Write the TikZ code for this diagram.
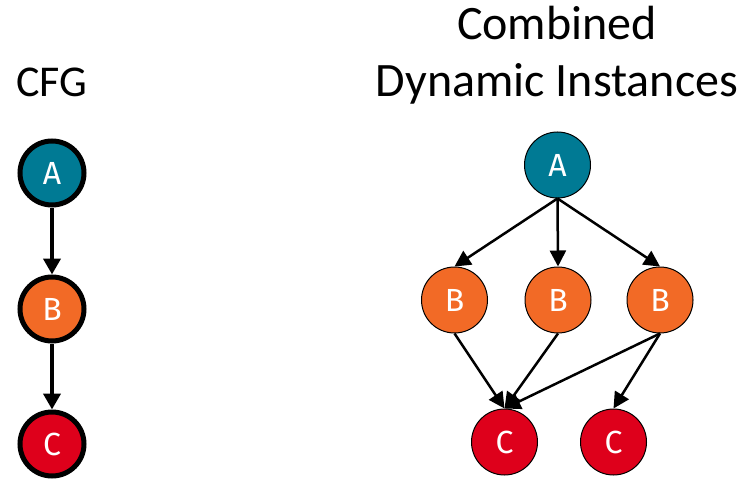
\documentclass[tikz,border=0pt]{standalone}
\usepackage{fontspec}
\setmainfont{Carlito}
\newfontfamily\nodefont{Fira Sans}
\usetikzlibrary{arrows.meta}
\definecolor{teal}{RGB}{0,122,148}
\definecolor{orng}{RGB}{242,106,38}
\definecolor{crimson}{RGB}{222,0,27}
\begin{document}
\begin{tikzpicture}[x=1pt,y=-1pt,
  title/.style={font=\fontsize{44}{44}\selectfont, anchor=base, inner sep=0pt},
  bigtitle/.style={title, font=\fontsize{48}{48}\selectfont},
  blk/.style={circle, minimum size=66pt, inner sep=0pt, text=white,
    font=\nodefont\fontsize{32}{32}\selectfont},
  cfgnode/.style={blk, draw=black, line width=5pt, minimum size=64pt},
  dynnode/.style={blk, draw=black, line width=1pt},
  cfgedge/.style={line width=4pt, -{Triangle[length=16pt,width=17pt]}},
  dynedge/.style={line width=2.5pt, -{Triangle[length=16pt,width=16pt]}}]
\useasboundingbox (0,0) rectangle (743,481);

% titles
\node[title] (tcfg) at (52,97) {CFG};
\node[bigtitle] (tcomb) at (557,40) {Combined};
\node[bigtitle] (tdyn) at (557,97) {Dynamic Instances};

% control flow graph
\node[cfgnode, fill=teal] (a) at (52,173) {A};
\node[cfgnode, fill=orng] (b) at (52,309) {B};
\node[cfgnode, fill=crimson] (c) at (52,444) {C};
\draw[cfgedge] (a) -- (b);
\draw[cfgedge] (b) -- (c);

% combined dynamic instances
\node[dynnode, fill=teal] (da) at (557.5,165) {A};
\node[dynnode, fill=orng] (db1) at (454.5,300) {B};
\node[dynnode, fill=orng] (db2) at (558,300) {B};
\node[dynnode, fill=orng] (db3) at (660,300) {B};
\node[dynnode, fill=crimson] (dc1) at (504.5,442) {C};
\node[dynnode, fill=crimson] (dc2) at (613.5,442) {C};

\draw[dynedge] (da.south) -- (db1.north);
\draw[dynedge] (da.south) -- (db2.north);
\draw[dynedge] (da.south) -- (db3.north);
\draw[dynedge] (db1.south) -- (dc1.north);
\draw[dynedge] (db2.south) -- (dc1.north);
\draw[dynedge] (db3.south) -- (dc1.north);
\draw[dynedge] (db3.south) -- (dc2.north);
\end{tikzpicture}
\end{document}
